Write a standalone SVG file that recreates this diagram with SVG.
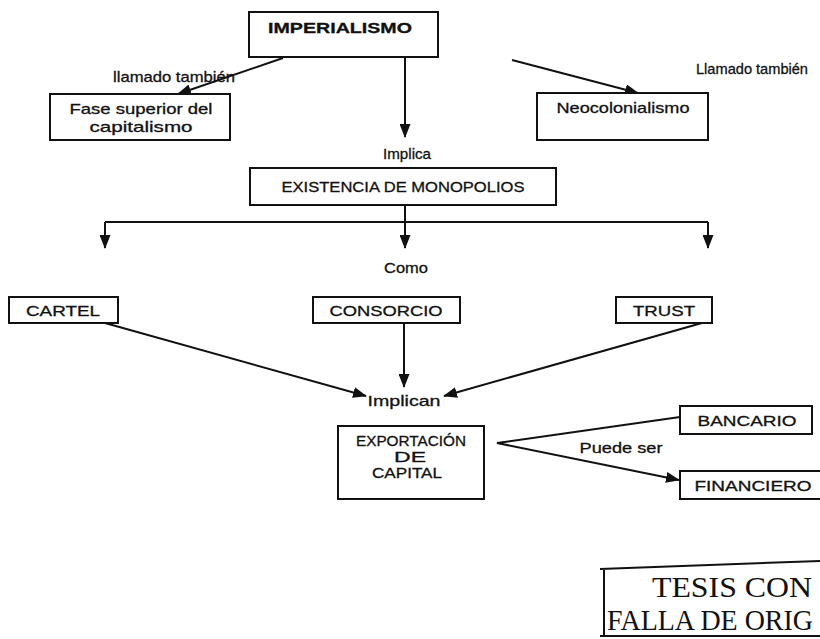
<svg xmlns="http://www.w3.org/2000/svg" width="820" height="639" viewBox="0 0 820 639">
<style>
.box{fill:#fff;stroke:#111;stroke-width:2}
.t{font-family:"Liberation Sans",Arial,sans-serif;font-size:15px;fill:#111;stroke:#111;stroke-width:0.3;text-anchor:middle}
.c{fill:none;stroke:#111;stroke-width:2}
.stamp{font-family:"Liberation Serif","Times New Roman",serif;font-size:29px;fill:#111}
</style>
<defs>
<marker id="ah" viewBox="0 0 14 11" refX="13" refY="5.5" markerWidth="14" markerHeight="11" markerUnits="userSpaceOnUse" orient="auto">
<path d="M0,0 L14,5.5 L0,11 Z" fill="#111"/>
</marker>
</defs>
<rect width="820" height="639" fill="#fff"/>

<g id="connectors">
<path class="c" d="M283,58 L178,94" marker-end="url(#ah)"/>
<path class="c" d="M405,57 L405,137" marker-end="url(#ah)"/>
<path class="c" d="M512,60 L638,93" marker-end="url(#ah)"/>
<path class="c" d="M405,205 L405,222 M105,222 L708,222"/>
<path class="c" d="M105,222 L105,248" marker-end="url(#ah)"/>
<path class="c" d="M405,222 L405,248" marker-end="url(#ah)"/>
<path class="c" d="M708,222 L708,248" marker-end="url(#ah)"/>
<path class="c" d="M105,323 L366,396" marker-end="url(#ah)"/>
<path class="c" d="M404,323 L404,387" marker-end="url(#ah)"/>
<path class="c" d="M702,323 L444,396" marker-end="url(#ah)"/>
<path class="c" d="M680,417 L497,443 L679,480" marker-end="url(#ah)"/>
</g>

<g id="labels">
<text class="t" x="174" y="82" textLength="122" lengthAdjust="spacingAndGlyphs">llamado también</text>
<text class="t" x="752" y="74" textLength="112" lengthAdjust="spacingAndGlyphs">Llamado también</text>
<text class="t" x="407" y="159" textLength="48" lengthAdjust="spacingAndGlyphs">Implica</text>
<text class="t" x="406" y="273" textLength="44" lengthAdjust="spacingAndGlyphs">Como</text>
<text class="t" x="404" y="406" textLength="73" lengthAdjust="spacingAndGlyphs">Implican</text>
<text class="t" x="621" y="453" textLength="83" lengthAdjust="spacingAndGlyphs">Puede ser</text>
</g>

<g id="imperialismo">
<rect class="box" x="249" y="12" width="189" height="45"/>
<text class="t" x="340" y="33" font-weight="bold" font-size="15" stroke-width="0.9" textLength="144" lengthAdjust="spacingAndGlyphs">IMPERIALISMO</text>
</g>

<g id="fase">
<rect class="box" x="50" y="94" width="180" height="46"/>
<text class="t" x="141" y="114" textLength="143" lengthAdjust="spacingAndGlyphs">Fase superior del</text>
<text class="t" x="141" y="132" textLength="103" lengthAdjust="spacingAndGlyphs">capitalismo</text>
</g>

<g id="neocolonialismo">
<rect class="box" x="537" y="93" width="171" height="47"/>
<text class="t" x="623" y="113" textLength="133" lengthAdjust="spacingAndGlyphs">Neocolonialismo</text>
</g>

<g id="existencia">
<rect class="box" x="250" y="168" width="306" height="37"/>
<text class="t" x="403" y="192" textLength="243" lengthAdjust="spacingAndGlyphs">EXISTENCIA DE MONOPOLIOS</text>
</g>

<g id="cartel">
<rect class="box" x="9" y="297" width="109" height="26"/>
<text class="t" x="63" y="316" textLength="74" lengthAdjust="spacingAndGlyphs">CARTEL</text>
</g>

<g id="consorcio">
<rect class="box" x="313" y="297" width="147" height="26"/>
<text class="t" x="386" y="316" textLength="113" lengthAdjust="spacingAndGlyphs">CONSORCIO</text>
</g>

<g id="trust">
<rect class="box" x="616" y="297" width="96" height="26"/>
<text class="t" x="664" y="316" textLength="62" lengthAdjust="spacingAndGlyphs">TRUST</text>
</g>

<g id="exportacion">
<rect class="box" x="338" y="426" width="146" height="73"/>
<text class="t" x="411" y="446" font-size="14" textLength="110" lengthAdjust="spacingAndGlyphs">EXPORTACIÓN</text>
<text class="t" x="410" y="462" font-size="14" textLength="32" lengthAdjust="spacingAndGlyphs">DE</text>
<text class="t" x="407" y="478" font-size="14" textLength="70" lengthAdjust="spacingAndGlyphs">CAPITAL</text>
</g>

<g id="bancario">
<rect class="box" x="680" y="406" width="132" height="28"/>
<text class="t" x="747" y="426" textLength="99" lengthAdjust="spacingAndGlyphs">BANCARIO</text>
</g>

<g id="financiero">
<rect class="box" x="680" y="471" width="145" height="28"/>
<text class="t" x="753" y="491" textLength="117" lengthAdjust="spacingAndGlyphs">FINANCIERO</text>
</g>

<g id="stamp">
<path class="c" d="M600,569 L820,561 M604,569 L604,636 M600,636 L820,636"/>
<text class="stamp" x="652" y="597" textLength="160" lengthAdjust="spacingAndGlyphs">TESIS CON</text>
<text class="stamp" x="607" y="630" textLength="206" lengthAdjust="spacingAndGlyphs">FALLA DE ORIG</text>
</g>
</svg>
